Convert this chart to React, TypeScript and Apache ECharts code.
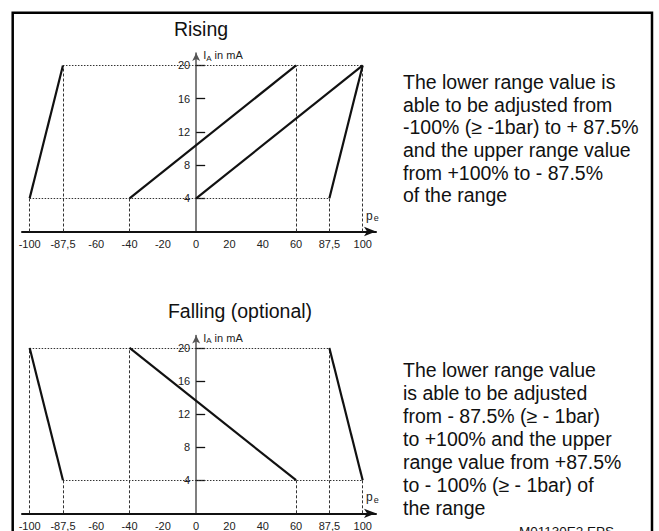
import React, { useEffect, useRef } from "react";
import * as echarts from "echarts";

const tickValues = [-100, -87.5, -60, -40, -20, 0, 20, 40, 60, 87.5, 100];
const tickLabels = ["-100", "-87,5", "-60", "-40", "-20", "0", "20", "40", "60", "87,5", "100"];
const yTicks = [4, 8, 12, 16, 20];

const risingLines = [
  [[-100, 4], [-87.5, 20]],
  [[-40, 4], [60, 20]],
  [[0, 4], [100, 20]],
  [[87.5, 4], [100, 20]],
];
const risingGuidesH = [
  [[-87.5, 20], [100, 20]],
  [[-100, 4], [87.5, 4]],
];
const risingGuidesV = [[-100, 4], [-87.5, 20], [-40, 4], [60, 20], [87.5, 4], [100, 20]];

const fallingLines = [
  [[-100, 20], [-87.5, 4]],
  [[-40, 20], [60, 4]],
  [[87.5, 20], [100, 4]],
];
const fallingGuidesH = [
  [[-100, 20], [87.5, 20]],
  [[-87.5, 4], [100, 4]],
];
const fallingGuidesV = [[-100, 20], [-87.5, 4], [-40, 20], [60, 4], [87.5, 20], [100, 4]];

const risingTitle = "Rising";
const fallingTitle = "Falling (optional)";
const risingText =
  "The lower range value is\nable to be adjusted from\n-100% (\u2265 -1bar) to + 87.5%\nand the upper range value\nfrom +100% to - 87.5%\nof the range";
const fallingText =
  "The lower range value\nis able to be adjusted\nfrom - 87.5% (\u2265 - 1bar)\nto +100% and the upper\nrange value from +87.5%\nto - 100% (\u2265 - 1bar) of\nthe range";
const figureId = "M01130E2.EPS";

const FONT = "'Liberation Sans', Arial, Helvetica, sans-serif";

const X_MIN = -5.23;
const X_MAX = 5.4;
const GRID_W = 354;
// y axis sits at x = 0 of the index scale
const Y_OFFSET = -((0 - X_MIN) / (X_MAX - X_MIN)) * GRID_W;

const pos = (v: number) => tickValues.indexOf(v) - 5;
const xIdx = tickValues.map((_, i) => i - 5);

function segs(list: number[][][]) {
  return list.map((s) => ({ coords: s.map((p) => [pos(p[0]), p[1]]) }));
}
function vsegs(list: number[][]) {
  return list.map((p) => ({ coords: [[pos(p[0]), 0], [pos(p[0]), p[1]]] }));
}

function xAxisCfg(gridIndex: number) {
  return {
    type: "value",
    gridIndex,
    min: X_MIN,
    max: X_MAX,
    axisLine: {
      show: true,
      onZero: false,
      symbol: ["none", "arrow"],
      symbolSize: [7, 12],
      lineStyle: { color: "#111", width: 2 },
    },
    axisTick: { show: false },
    splitLine: { show: false },
    axisLabel: {
      customValues: xIdx,
      formatter: (v: number) => tickLabels[Math.round(v) + 5],
      margin: 7,
      fontSize: 11,
      color: "#222",
      fontFamily: FONT,
    },
    name: "{p|p}{s|e}",
    nameLocation: "end",
    nameGap: -10,
    nameTextStyle: {
      align: "left",
      verticalAlign: "bottom",
      padding: [0, 0, 9, 0],
      rich: {
        p: { fontSize: 12, color: "#222", fontFamily: FONT },
        s: { fontSize: 9, color: "#222", fontFamily: FONT, padding: [5, 0, 0, 1] },
      },
    },
  };
}

function yAxisCfg(gridIndex: number) {
  return {
    type: "value",
    gridIndex,
    min: 0,
    max: 21.5,
    position: "left",
    offset: Y_OFFSET,
    axisLine: {
      show: true,
      onZero: false,
      symbol: ["none", "arrow"],
      symbolSize: [6, 8],
      lineStyle: { color: "#555", width: 1.5 },
    },
    axisTick: {
      show: true,
      inside: true,
      length: 9,
      customValues: yTicks,
      lineStyle: { color: "#111", width: 1.3 },
    },
    axisLabel: {
      customValues: yTicks,
      margin: 6,
      fontSize: 11,
      color: "#222",
      fontFamily: FONT,
    },
    splitLine: { show: false },
    name: "{i|I}{s|A}{i| in mA}",
    nameLocation: "end",
    nameGap: -2,
    nameTextStyle: {
      align: "left",
      verticalAlign: "middle",
      padding: [0, 0, 0, 7],
      rich: {
        i: { fontSize: 11, color: "#222", fontFamily: FONT },
        s: { fontSize: 8, color: "#222", fontFamily: FONT, lineHeight: 8, padding: [6, 0, 0, 0] },
      },
    },
  };
}

function linesSeries(idx: number, data: any[], style: any, z: number) {
  return {
    type: "lines",
    coordinateSystem: "cartesian2d",
    xAxisIndex: idx,
    yAxisIndex: idx,
    silent: true,
    z,
    symbol: ["none", "none"],
    lineStyle: style,
    data,
  };
}

const mainStyle = { color: "#111", width: 2.2, opacity: 1 };
const hStyle = { color: "#333", width: 1, type: [1.5, 1.5], opacity: 1 };
const vStyle = { color: "#333", width: 1, type: [3, 2], opacity: 1 };

export default function App() {
  const ref = useRef<HTMLDivElement>(null);
  useEffect(() => {
    if (!ref.current) return;
    const chart = echarts.init(ref.current, null, { renderer: "svg" });
    chart.setOption({
      animation: false,
      backgroundColor: "#fff",
      grid: [
        { left: 22, top: 53, width: GRID_W, height: 178.5, outerBoundsMode: "none" },
        { left: 22, top: 335.5, width: GRID_W, height: 177.8, outerBoundsMode: "none" },
      ],
      xAxis: [xAxisCfg(0), xAxisCfg(1)],
      yAxis: [yAxisCfg(0), yAxisCfg(1)],
      series: [
        linesSeries(0, segs(risingGuidesH), hStyle, 1),
        linesSeries(0, vsegs(risingGuidesV), vStyle, 1),
        linesSeries(0, segs(risingLines), mainStyle, 3),
        linesSeries(1, segs(fallingGuidesH), hStyle, 1),
        linesSeries(1, vsegs(fallingGuidesV), vStyle, 1),
        linesSeries(1, segs(fallingLines), mainStyle, 3),
      ],
      graphic: [
        {
          type: "rect",
          shape: { x: 12.7, y: 12.8, width: 639.3, height: 560 },
          style: { fill: "none", stroke: "#000", lineWidth: 2.5 },
          z: 10,
        },
        {
          type: "text",
          x: 201,
          y: 29,
          style: { text: risingTitle, align: "center", verticalAlign: "middle", fontSize: 19.5, fontFamily: FONT, fill: "#111" },
        },
        {
          type: "text",
          x: 240,
          y: 311,
          style: { text: fallingTitle, align: "center", verticalAlign: "middle", fontSize: 19.5, fontFamily: FONT, fill: "#111" },
        },
        {
          type: "text",
          x: 403,
          y: 70.5,
          style: { text: risingText, align: "left", verticalAlign: "top", fontSize: 19.5, lineHeight: 22.7, fontFamily: FONT, fill: "#111" },
        },
        {
          type: "text",
          x: 403,
          y: 358,
          style: { text: fallingText, align: "left", verticalAlign: "top", fontSize: 19.5, lineHeight: 23, fontFamily: FONT, fill: "#111" },
        },
        {
          type: "text",
          x: 519,
          y: 524,
          style: { text: figureId, align: "left", verticalAlign: "top", fontSize: 13.5, fontFamily: FONT, fill: "#111" },
        },
      ],
    });
    return () => chart.dispose();
  }, []);
  return <div ref={ref} style={{ position: "fixed", left: 0, top: 0, width: 659, height: 531 }} />;
}
